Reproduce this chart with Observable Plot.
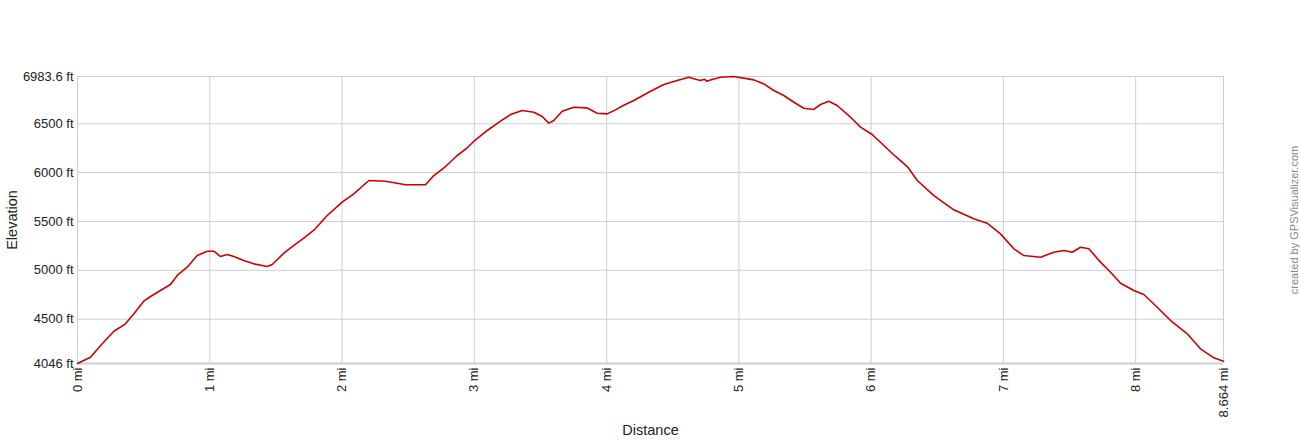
<!DOCTYPE html>
<html>
<head>
<meta charset="utf-8">
<script src="https://cdn.jsdelivr.net/npm/d3@7"></script>
<script src="https://cdn.jsdelivr.net/npm/@observablehq/plot@0.6"></script>
<style>
  html, body { margin: 0; padding: 0; background: #fff; }
  #chart { width: 1300px; height: 440px; }
  #chart svg [aria-label="x-axis label"] text, #chart svg [aria-label="y-axis label"] text { font-size: 14.5px; }
</style>
</head>
<body>
<div id="chart"></div>
<script>
// Distance along track (miles)
const distanceMi = [
  0, 0.098, 0.187, 0.275, 0.363, 0.426, 0.501, 0.552, 0.627, 0.703,
  0.754, 0.829, 0.905, 0.981, 1.031, 1.081, 1.132, 1.182, 1.257, 1.333,
  1.434, 1.472, 1.560, 1.636, 1.711, 1.787, 1.888, 2.001, 2.089, 2.203,
  2.329, 2.417, 2.480, 2.631, 2.694, 2.782, 2.871, 2.946, 3.009, 3.098,
  3.198, 3.274, 3.362, 3.450, 3.513, 3.563, 3.601, 3.664, 3.752, 3.853,
  3.929, 4.005, 4.067, 4.130, 4.206, 4.332, 4.433, 4.534, 4.622, 4.660,
  4.710, 4.740, 4.760, 4.786, 4.820, 4.861, 4.962, 5.113, 5.189, 5.264,
  5.340, 5.416, 5.491, 5.567, 5.617, 5.680, 5.743, 5.844, 5.920, 6.008,
  6.096, 6.185, 6.273, 6.349, 6.474, 6.625, 6.776, 6.877, 6.978, 7.079,
  7.154, 7.281, 7.381, 7.457, 7.520, 7.583, 7.646, 7.734, 7.810, 7.886,
  7.986, 8.062, 8.163, 8.264, 8.390, 8.490, 8.591, 8.664
];
// Elevation (feet)
const elevationFt = [
  4046, 4110, 4248, 4376, 4452, 4555, 4684, 4732, 4793, 4855,
  4947, 5032, 5151, 5195, 5195, 5141, 5162, 5141, 5100, 5066,
  5039, 5059, 5175, 5254, 5330, 5410, 5561, 5697, 5783, 5919,
  5912, 5891, 5875, 5875, 5970, 6062, 6175, 6254, 6336, 6431,
  6526, 6594, 6635, 6618, 6574, 6506, 6533, 6628, 6669, 6662,
  6608, 6601, 6642, 6690, 6738, 6833, 6902, 6942, 6976, 6960,
  6942, 6955, 6935, 6949, 6960, 6976, 6983.6, 6949, 6908, 6840,
  6789, 6720, 6659, 6646, 6697, 6731, 6687, 6567, 6465, 6390,
  6277, 6165, 6062, 5919, 5765, 5619, 5527, 5482, 5373, 5220,
  5151, 5134, 5185, 5203, 5185, 5236, 5220, 5083, 4980, 4868,
  4793, 4752, 4622, 4486, 4350, 4196, 4104, 4070
];
const xTicks = [0, 1, 2, 3, 4, 5, 6, 7, 8, 8.664];
const yTicks = [4046, 4500, 5000, 5500, 6000, 6500, 6983.6];
const xTitle = "Distance";
const yTitle = "Elevation";
const credit = "created by GPSVisualizer.com";

const track = distanceMi.map((d, i) => ({dist: d, elev: elevationFt[i]}));

const chart = Plot.plot({
  width: 1300,
  height: 440,
  marginLeft: 77,
  marginRight: 77,
  marginTop: 76,
  marginBottom: 77,
  style: {fontFamily: "'Liberation Sans', Arial, sans-serif", fontSize: "13px", color: "#222", background: "#fff"},
  x: {domain: [0, 8.664]},
  y: {domain: [4046, 6983.6]},
  marks: [
    Plot.gridX(xTicks, {stroke: "#cfcfcf", strokeOpacity: 1, strokeWidth: 1}),
    Plot.gridY(yTicks, {stroke: "#cfcfcf", strokeOpacity: 1, strokeWidth: 1}),
    Plot.ruleY([4046], {stroke: "#cfcfcf", strokeWidth: 2}),
    Plot.axisX(xTicks, {
      tickSize: 0, tickPadding: 4, tickRotate: -90,
      tickFormat: d => d + " mi",
      label: xTitle, labelAnchor: "center", labelArrow: "none", labelOffset: 71,
      fontSize: 13
    }),
    Plot.axisY(yTicks, {
      tickSize: 0, tickPadding: 4,
      tickFormat: d => d + " ft",
      label: yTitle, labelAnchor: "center", labelArrow: "none", labelOffset: 71,
      fontSize: 13
    }),
    Plot.line(track, {x: "dist", y: "elev", stroke: "#cc0000", strokeWidth: 1.6, curve: "linear"}),
    Plot.text([credit], {frameAnchor: "right", textAnchor: "middle", dx: 71, rotate: -90, fill: "#888", fontSize: 11})
  ]
});
document.getElementById("chart").appendChild(chart);
</script>
</body>
</html>
